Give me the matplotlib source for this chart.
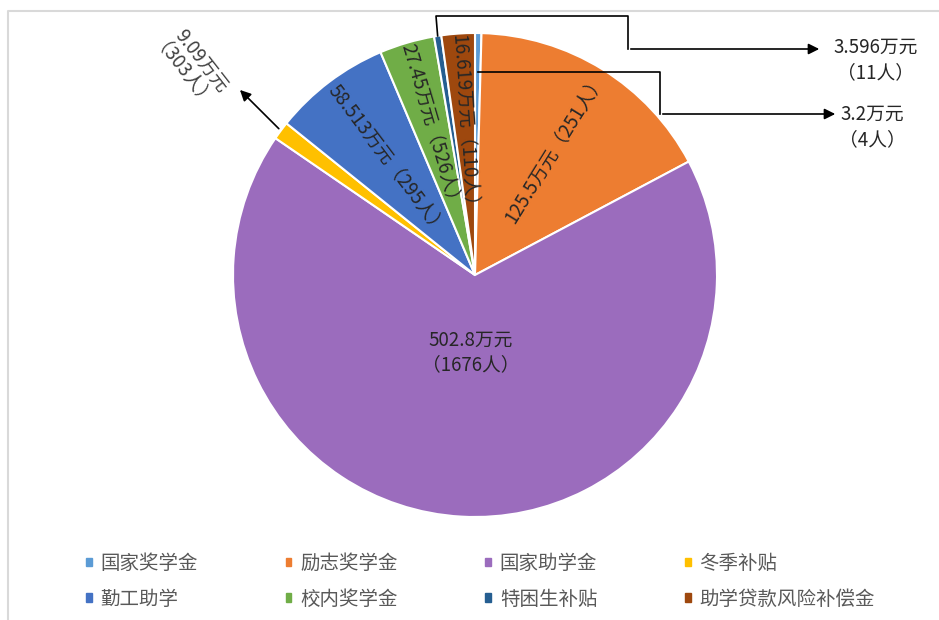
import numpy as np
import matplotlib
matplotlib.use("Agg")
import matplotlib.pyplot as plt

plt.rcParams['font.family'] = ['Noto Sans CJK SC', 'DejaVu Sans']

# data
names = ['国家奖学金', '励志奖学金', '国家助学金', '冬季补贴',
         '勤工助学', '校内奖学金', '特困生补贴', '助学贷款风险补偿金']
money = [3.2, 125.5, 502.8, 9.09, 58.513, 27.45, 3.596, 16.619]
people = [4, 251, 1676, 303, 295, 526, 11, 110]
colors = ['#5B9BD5', '#ED7D31', '#9B6CBD', '#FFC000',
          '#4472C4', '#70AD47', '#255E91', '#9E480E']

W, H = 939, 620
fig = plt.figure(figsize=(W / 100, H / 100), dpi=100)
ax = fig.add_axes([0, 0, 1, 1])

cx, cy, R = 475, H - 275, 242
wedges, _ = ax.pie(money, colors=colors, startangle=90, counterclock=False,
                   center=(cx, cy), radius=R,
                   wedgeprops=dict(edgecolor='white', linewidth=1.5))
ax.set_xlim(0, W)
ax.set_ylim(0, H)
ax.set_aspect('equal')
ax.axis('off')


def lab(i):
    return '%s万元（%d人）' % (money[i], people[i])


def polar(i, frac):
    w = wedges[i]
    a = np.deg2rad((w.theta1 + w.theta2) / 2)
    return cx + frac * R * np.cos(a), cy + frac * R * np.sin(a)


def radial_rot(i):
    w = wedges[i]
    r = (w.theta1 + w.theta2) / 2 % 360
    if r > 90:
        r -= 180
    if r > 90:
        r -= 180
    return r


tc = '#262626'
fs = 13.5
# rotated labels inside slices
for i, f in [(1, 0.62), (4, 0.60), (5, 0.64), (7, 0.62)]:
    x, y = polar(i, f)
    ax.text(x, y, lab(i), rotation=radial_rot(i), ha='center', va='center',
            fontsize=fs, color=tc)

x, y = polar(2, 0.32)
ax.text(x, y, '%s万元\n（%d人）' % (money[2], people[2]), ha='center',
        va='center', fontsize=fs, color=tc, linespacing=1.25)

# 冬季补贴 callout
x0, y0 = polar(3, 1.0)
ax.annotate('', xy=(238, H - 88), xytext=(x0, y0),
            arrowprops=dict(arrowstyle='-|>', color='black', lw=1.2,
                            mutation_scale=16))
ax.text(190, H - 70, '%s万元\n（%d人）' % (money[3], people[3]),
        rotation=-52, ha='center', va='center', fontsize=fs,
        color='#404040', linespacing=1.45, multialignment='center')

# 特困生补贴 callout
x0, y0 = polar(6, 1.0)
ax.plot([x0, 436, 628, 628], [y0, H - 16, H - 16, H - 49], color='black', lw=1.2)
ax.annotate('', xy=(822, H - 49), xytext=(628, H - 49),
            arrowprops=dict(arrowstyle='-|>', color='black', lw=1.2,
                            mutation_scale=16))
ax.text(876, H - 60, '%s万元\n（%d人）' % (money[6], people[6]),
        ha='center', va='center', fontsize=fs, color='#262626', linespacing=1.25)

# 国家奖学金 callout
x0, y0 = polar(0, 0.84)
ax.plot([x0, 660, 660], [y0, y0, H - 114], color='black', lw=1.2)
ax.annotate('', xy=(838, H - 114), xytext=(660, H - 114),
            arrowprops=dict(arrowstyle='-|>', color='black', lw=1.2,
                            mutation_scale=16))
ax.text(872, H - 127, '%s万元\n（%d人）' % (money[0], people[0]),
        ha='center', va='center', fontsize=fs, color='#262626', linespacing=1.25)

# legend, filled row by row
order = [0, 4, 1, 5, 2, 6, 3, 7]
handles = [plt.Rectangle((0, 0), 1, 1, color=colors[k]) for k in order]
leg = fig.legend(handles, [names[k] for k in order], ncol=4, loc='upper left',
                 bbox_to_anchor=(86 / W, 1 - 553 / H), frameon=False,
                 borderpad=0, borderaxespad=0,
                 fontsize=14, handlelength=0.3, handleheight=0.3,
                 handletextpad=0.45, columnspacing=4.5, labelspacing=0.75)
for t in leg.get_texts():
    t.set_color('#595959')

# outer border
ax.plot([7.5, 7.5, W], [0, H - 10.5, H - 10.5], color='#D9D9D9', lw=1.5)

fig.savefig('out.png', dpi=100, facecolor='white')
